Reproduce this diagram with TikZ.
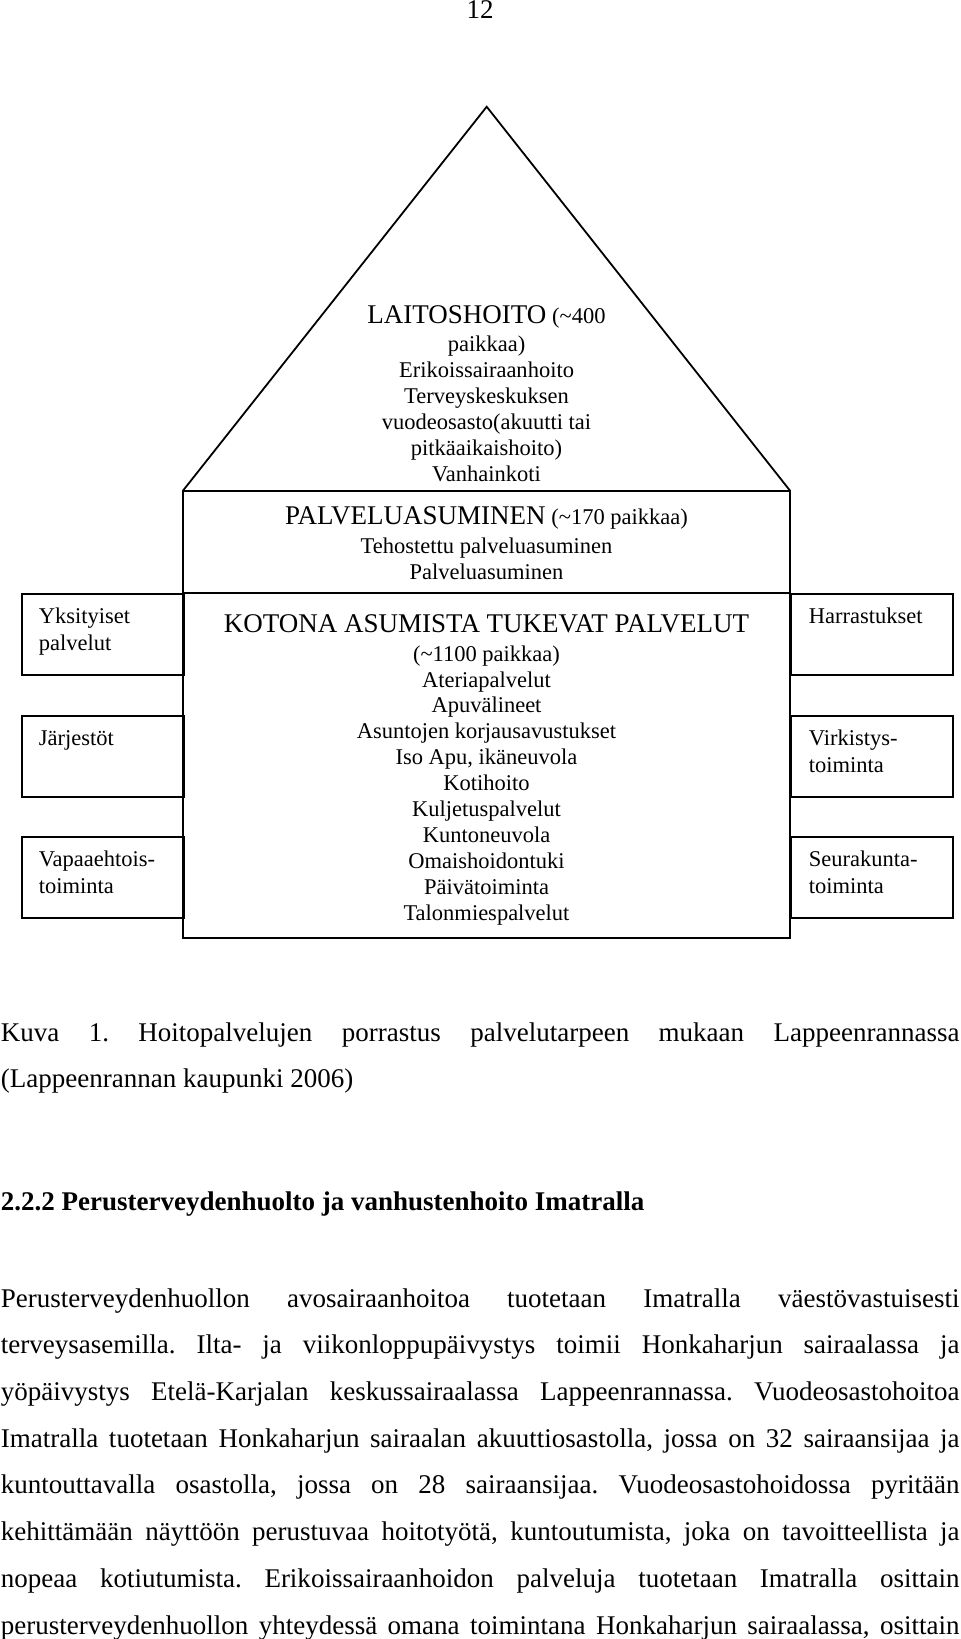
\documentclass[tikz,border=0pt]{standalone}
\usepackage{fontspec}
\setmainfont{Liberation Serif}
\usepackage{tikz}

\newlength{\bodywd}
\setlength{\bodywd}{426pt}
\newcommand{\justline}[1]{\hbox to \bodywd{\frenchspacing\spaceskip=0.25em plus 1fil minus 0.1em\relax #1}}

\begin{document}
\begin{tikzpicture}[x=0.4444pt, y=-0.4444pt, line width=0.8pt]
\tikzstyle{sidebox} = [rectangle, draw, minimum width=72pt, minimum height=36pt, inner sep=0pt, anchor=north west]
\tikzstyle{boxtext} = [font=\fontsize{10}{11.8}\selectfont, align=left, anchor=base west, inner sep=0pt]
\tikzstyle{leveltext} = [font=\fontsize{10}{11.5}\selectfont, align=center, anchor=base, inner sep=0pt]
\tikzstyle{pagetext} = [font=\fontsize{12}{20.75}\selectfont, align=left, anchor=base west, inner sep=0pt]
\useasboundingbox (0,0) rectangle (960,1639);

% Pyramid
\coordinate (apex) at (486.7,106.7);
\coordinate (bl) at (182.7,491);
\coordinate (br) at (790.3,491);
\coordinate (ml) at (182.7,593);
\coordinate (mr) at (790.3,593);
\coordinate (fr) at (790.3,938);
\draw (bl) -- (apex) -- (br);
\draw (bl) rectangle (mr);
\draw (ml) rectangle (fr);

% Side boxes
\node [sidebox] (yks) at (20.7,593) {};
\node [sidebox] (jarj) at (20.7,715) {};
\node [sidebox] (vapaa) at (20.7,836) {};
\node [sidebox] (harr) at (790.3,593) {};
\node [sidebox] (virk) at (790.3,715) {};
\node [sidebox] (seura) at (790.3,836) {};

% (base = last line)
\node [boxtext] (yks-t) at (38,650) {Yksityiset\\palvelut};
\node [boxtext] (jarj-t) at (38,745.5) {Järjestöt};
\node [boxtext] (vapaa-t) at (38,893) {Vapaaehtois-\\toiminta};
\node [boxtext] (harr-t) at (808,623.5) {Harrastukset};
\node [boxtext] (virk-t) at (808,772) {Virkistys-\\toiminta};
\node [boxtext] (seura-t) at (808,893) {Seurakunta-\\toiminta};

% Levels
\node [leveltext] (laitos) at (486.5,481) {{\fontsize{12}{14}\selectfont LAITOSHOITO} (\textasciitilde400\\[1.2pt]
  paikkaa)\\Erikoissairaanhoito\\Terveyskeskuksen\\vuodeosasto(akuutti tai\\pitkäaikaishoito)\\Vanhainkoti};
\node [leveltext] (palvelu) at (486.5,579) {{\fontsize{12}{14}\selectfont PALVELUASUMINEN} (\textasciitilde170 paikkaa)\\[1.2pt]
  Tehostettu palveluasuminen\\Palveluasuminen};
\node [leveltext] (kotona) at (486.5,920) {{\fontsize{12}{14}\selectfont KOTONA ASUMISTA TUKEVAT PALVELUT}\\[1.2pt]
  (\textasciitilde1100 paikkaa)\\Ateriapalvelut\\Apuvälineet\\Asuntojen korjausavustukset\\Iso Apu, ikäneuvola\\Kotihoito\\
  Kuljetuspalvelut\\Kuntoneuvola\\Omaishoidontuki\\Päivätoiminta\\Talonmiespalvelut};

% Page text
\node [pagetext, anchor=base] (pagenum) at (480,18.5) {12};
\node [pagetext] (caption) at (0,1087) {\justline{Kuva 1. Hoitopalvelujen porrastus palvelutarpeen mukaan Lappeenrannassa}\\[-0.7pt]
  (Lappeenrannan kaupunki 2006)};
\node [pagetext, font=\fontsize{12}{20.75}\selectfont\bfseries] (heading) at (0,1210) {2.2.2 Perusterveydenhuolto ja vanhustenhoito Imatralla};
\node [pagetext] (body) at (0,1634) {%
  \justline{Perusterveydenhuollon avosairaanhoitoa tuotetaan Imatralla väestövastuisesti}\\
  \justline{terveysasemilla. Ilta- ja viikonloppupäivystys toimii Honkaharjun sairaalassa ja}\\
  \justline{yöpäivystys Etelä-Karjalan keskussairaalassa Lappeenrannassa. Vuodeosastohoitoa}\\
  \justline{Imatralla tuotetaan Honkaharjun sairaalan akuuttiosastolla, jossa on 32 sairaansijaa ja}\\
  \justline{kuntouttavalla osastolla, jossa on 28 sairaansijaa. Vuodeosastohoidossa pyritään}\\
  \justline{kehittämään näyttöön perustuvaa hoitotyötä, kuntoutumista, joka on tavoitteellista ja}\\
  \justline{nopeaa kotiutumista. Erikoissairaanhoidon palveluja tuotetaan Imatralla osittain}\\
  \justline{perusterveydenhuollon yhteydessä omana toimintana Honkaharjun sairaalassa, osittain}};
\end{tikzpicture}
\end{document}
